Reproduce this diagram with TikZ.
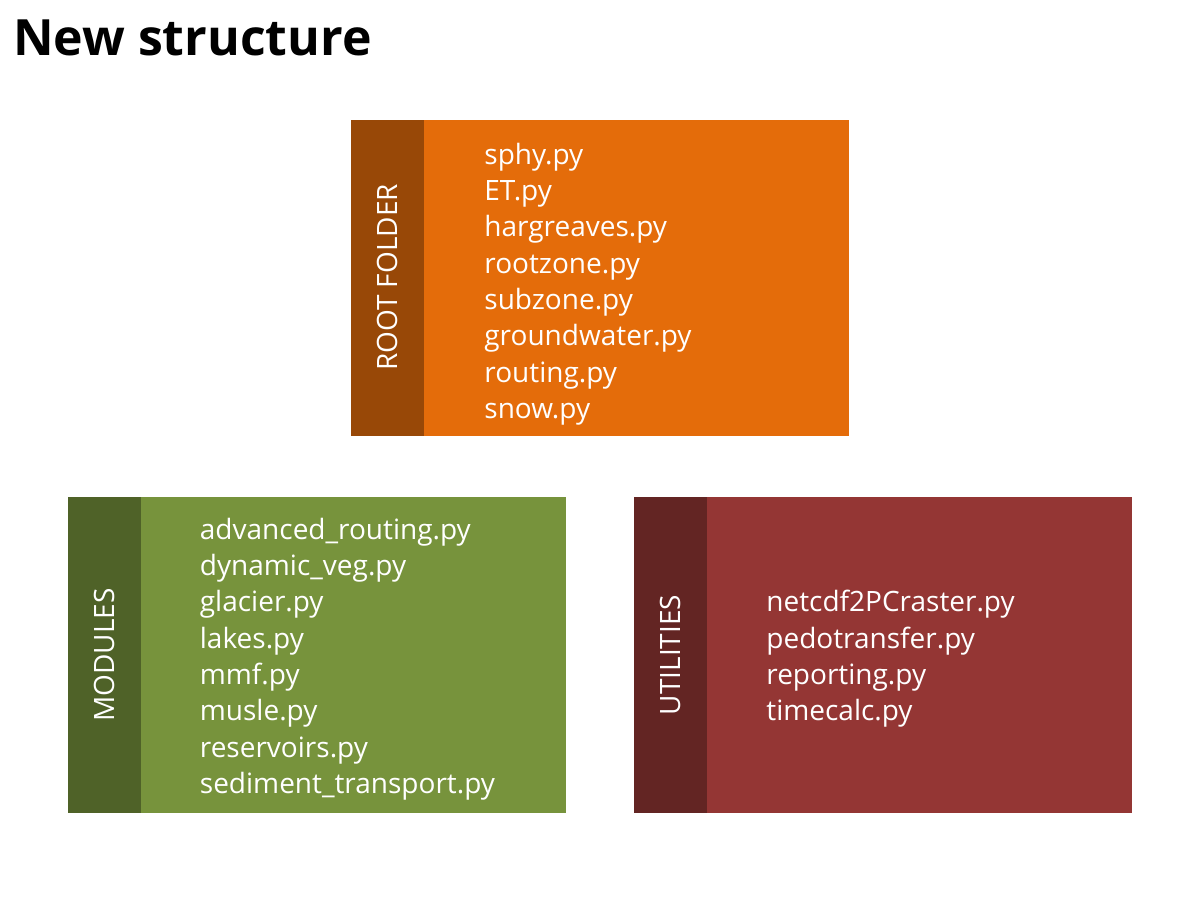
\documentclass[tikz,border=0pt]{standalone}
\usepackage{fontspec}
\setmainfont{Open Sans}
\usepackage{tikz}
\usetikzlibrary{positioning}

\definecolor{rootfill}{HTML}{E46C0A}
\definecolor{rootbar}{HTML}{984807}
\definecolor{modfill}{HTML}{77933C}
\definecolor{modbar}{HTML}{4F6228}
\definecolor{utilfill}{HTML}{943634}
\definecolor{utilbar}{HTML}{632523}

\tikzset{
  folder/.style={fill=#1, inner sep=0pt, minimum width=498pt, minimum height=316pt},
  folderbar/.style={fill=#1, inner sep=0pt, minimum width=73pt, minimum height=316pt, anchor=west},
  barlabel/.style={text=white, rotate=90, inner sep=0pt, font=\fontsize{28}{32}\selectfont},
  filelist/.style={text=white, align=left, anchor=west, inner sep=0pt, font=\fontsize{28}{36.3}\selectfont},
}

\begin{document}
\begin{tikzpicture}[x=1pt,y=-1pt]
\useasboundingbox (0,0) rectangle (1200,900);
\node[anchor=west, inner sep=0pt, font=\bfseries\fontsize{50}{60}\selectfont] (title) at (13,38) {New structure};

\node[folder=rootfill] (root) at (600,277.5) {};
\node[folderbar=rootbar] (rootside) at (root.west) {};
\node[barlabel] at (rootside) {ROOT FOLDER};
\node[filelist, right=60pt of rootside.east, yshift=-6.5pt] (rootfiles) {sphy.py\\ET.py\\hargreaves.py\\rootzone.py\\subzone.py\\groundwater.py\\routing.py\\snow.py};

\node[folder=modfill] (modules) at (316.5,655) {};
\node[folderbar=modbar] (modside) at (modules.west) {};
\node[barlabel] at (modside) {MODULES};
\node[filelist, right=59pt of modside.east, yshift=-4pt] (modfiles) {advanced\_routing.py\\dynamic\_veg.py\\glacier.py\\lakes.py\\mmf.py\\musle.py\\reservoirs.py\\sediment\_transport.py};

\node[folder=utilfill] (utilities) at (883,655) {};
\node[folderbar=utilbar] (utilside) at (utilities.west) {};
\node[barlabel] at (utilside) {UTILITIES};
\node[filelist, right=59pt of utilside.east, yshift=-4pt] (utilfiles) {netcdf2PCraster.py\\pedotransfer.py\\reporting.py\\timecalc.py};
\end{tikzpicture}
\end{document}
